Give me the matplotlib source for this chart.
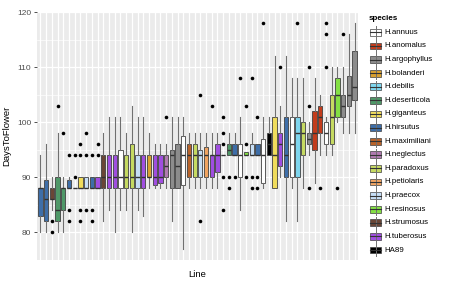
import matplotlib
matplotlib.use("Agg")
import matplotlib.pyplot as plt
from matplotlib.patches import Rectangle

plt.rcParams['font.family'] = ['Liberation Sans', 'DejaVu Sans']

species_names = ['H.annuus', 'H.anomalus', 'H.argophyllus', 'H.bolanderi', 'H.debilis',
                 'H.deserticola', 'H.giganteus', 'H.hirsutus', 'H.maximiliani', 'H.neglectus',
                 'H.paradoxus', 'H.petiolaris', 'H.praecox', 'H.resinosus', 'H.strumosus',
                 'H.tuberosus', 'HA89']
species_colors = ['#ffffff', '#c23c1c', '#8c8c8c', '#d9a030', '#7fd6ee',
                  '#4f9868', '#f0dc5c', '#3e6ea8', '#b8632a', '#b07ab0',
                  '#c6da62', '#f0a462', '#c6def6', '#84e044', '#6a4636',
                  '#a04ee0', '#000000']

box_species = ['H.hirsutus', 'H.hirsutus', 'H.strumosus', 'H.deserticola', 'H.deserticola',
               'H.hirsutus', 'H.annuus', 'H.giganteus', 'H.praecox', 'H.hirsutus',
               'H.tuberosus', 'H.strumosus', 'H.tuberosus', 'H.tuberosus', 'H.annuus',
               'H.paradoxus', 'H.paradoxus', 'H.praecox', 'H.tuberosus', 'H.bolanderi',
               'H.tuberosus', 'H.tuberosus', 'H.neglectus', 'H.argophyllus', 'H.argophyllus',
               'H.annuus', 'H.maximiliani', 'H.paradoxus', 'H.praecox', 'H.petiolaris',
               'H.tuberosus', 'H.tuberosus', 'H.annuus', 'H.deserticola', 'H.hirsutus',
               'H.annuus', 'H.resinosus', 'H.praecox', 'H.hirsutus', 'H.annuus',
               'HA89', 'H.giganteus', 'H.tuberosus', 'H.hirsutus', 'H.annuus',
               'H.debilis', 'H.paradoxus', 'H.argophyllus', 'H.anomalus', 'H.anomalus',
               'H.annuus', 'H.paradoxus', 'H.resinosus', 'H.argophyllus', 'H.argophyllus',
               'H.argophyllus']

whisker_low = [80, 80, 84, 80, 80, 88, 88, 88, 88, 88,
               88, 82, 84, 80, 84, 84, 80, 84, 83, 88,
               88, 88, 88, 82, 88, 77, 88, 88, 88, 88,
               88, 88, 94, 94, 94, 84, 94, 94, 94, 88,
               94, 88, 90, 82, 88, 82, 88, 94, 89, 94,
               94, 94, 100, 98, 98, 98]
q1 = [83, 82, 86, 82, 84, 88, 88, 88, 88, 88,
      88, 88, 88, 88, 88, 88, 88, 88, 88, 90,
      88.5, 89, 90, 88, 88, 88.5, 90, 90, 90, 90,
      90, 91, 94, 94, 94, 90, 94, 94, 94, 89,
      94, 88, 92, 90, 90, 90, 94, 96, 95, 98,
      96, 96, 101, 101, 103, 104]
median = [88, 86, 86, 84, 88, 88, 88, 88, 88, 88,
          88, 90, 90, 90, 90, 90, 90, 90, 90, 90,
          90, 90, 92, 94, 92, 94, 94, 94, 94, 94,
          94, 94, 94, 95, 94, 94, 94, 94, 94, 94,
          96, 94, 96, 94, 96, 98, 98, 97, 98, 101,
          98, 101, 105, 103, 105, 106.5]
q3 = [88, 89.5, 88, 90, 88, 89.5, 88, 90, 90, 90,
      90, 94, 94, 94, 95, 94, 96, 94, 94, 94,
      94, 94, 94, 95, 96, 97.5, 96, 96, 95, 95.5,
      94, 96, 94, 96, 96, 96, 94.6, 96, 96, 97,
      98, 101, 98, 101, 101, 101, 100, 98, 102, 103,
      100, 105, 108, 105, 108.5, 113]
whisker_high = [94, 96, 90, 98, 90, 90, 88, 90, 90, 90,
                90, 98, 101, 101, 101, 98, 103, 101, 101, 98,
                96, 96, 96, 101, 101, 101, 98, 98, 98, 98,
                98, 98, 94, 98, 98, 101, 94.6, 98, 96, 101,
                101, 112, 103, 112, 108, 108, 108, 100, 108, 105,
                101, 110, 110, 110, 116, 118]
outliers = [[], [], [82, 80], [103], [98], [94, 84, 82], [90, 94], [96, 94, 84, 82], [98, 94, 84], [94, 84, 82],
            [96, 94], [], [], [], [], [], [], [], [], [],
            [], [], [101], [], [], [], [], [], [105, 82], [],
            [103], [], [101, 98, 96, 90, 84], [90, 88], [90], [108], [103, 96, 90], [108, 90, 88], [101, 90, 88], [118],
            [], [], [110], [], [], [118], [], [110, 103, 88], [], [88],
            [110, 116, 118], [], [88], [116], [], []]

y_ticks = [80, 90, 100, 110, 120]

color_of = dict(zip(species_names, species_colors))
stats = []
for i in range(len(box_species)):
    stats.append(dict(whislo=whisker_low[i], q1=q1[i], med=median[i], q3=q3[i],
                      whishi=whisker_high[i], fliers=outliers[i]))

fig = plt.figure(figsize=(4.55, 2.85), dpi=100)
ax = fig.add_axes([37/455, 25/285, 321/455, 248/285])
ax.set_facecolor('#ebebeb')
positions = list(range(len(stats)))
bp = ax.bxp(stats, positions=positions, widths=0.75, patch_artist=True, showcaps=False,
            boxprops=dict(edgecolor='#404040', linewidth=0.6),
            whiskerprops=dict(color='#707070', linewidth=0.8),
            medianprops=dict(color='#333333', linewidth=1.0),
            flierprops=dict(marker='o', markerfacecolor='black', markeredgecolor='none', markersize=2.6),
            manage_ticks=False, zorder=3)
for patch, sp in zip(bp['boxes'], box_species):
    patch.set_facecolor(color_of[sp])

ax.set_xlim(-0.6, len(stats) - 0.4)
ax.set_ylim(74.95, 120.05)
ax.set_yticks(y_ticks)
ax.set_yticks([75, 85, 95, 105, 115], minor=True)
ax.set_xticks(positions)
ax.set_xticklabels([])
ax.grid(True, which='major', axis='both', color='white', linewidth=0.9, zorder=0)
ax.grid(True, which='minor', axis='y', color='white', linewidth=0.45, zorder=0)
ax.set_axisbelow(True)
for s in ax.spines.values():
    s.set_visible(False)
ax.tick_params(axis='x', length=0)
ax.tick_params(axis='y', which='major', length=2.5, width=0.6, color='#333333',
               labelsize=6, labelcolor='#4d4d4d', pad=1.5)
ax.tick_params(axis='y', which='minor', length=0)
ax.set_xlabel('Line', fontsize=6.8, labelpad=4)
ax.set_ylabel('DaysToFlower', fontsize=6.8, labelpad=4)

# legend
lg = fig.add_axes([0, 0, 1, 1])
lg.set_xlim(0, 455)
lg.set_ylim(285, 0)
lg.axis('off')
lg.patch.set_alpha(0)
lg.text(369, 18.5, 'species', fontsize=5.8, fontweight='bold', va='center', ha='left')
step = (250 - 32.3) / (len(species_names) - 1)
for j, (name, col) in enumerate(zip(species_names, species_colors)):
    yc = 32.3 + j * step
    lg.plot([375.5, 375.5], [yc - 6.2, yc + 6.2], color='#707070', lw=0.7)
    lg.add_patch(Rectangle((370, yc - 3.4), 11, 6.8, facecolor=col, edgecolor='#404040', lw=0.5))
    lg.plot([370, 381], [yc, yc], color='#333333', lw=0.8)
    lg.text(384, yc, name, fontsize=5.7, va='center', ha='left')

fig.savefig('out.png', dpi=100)
